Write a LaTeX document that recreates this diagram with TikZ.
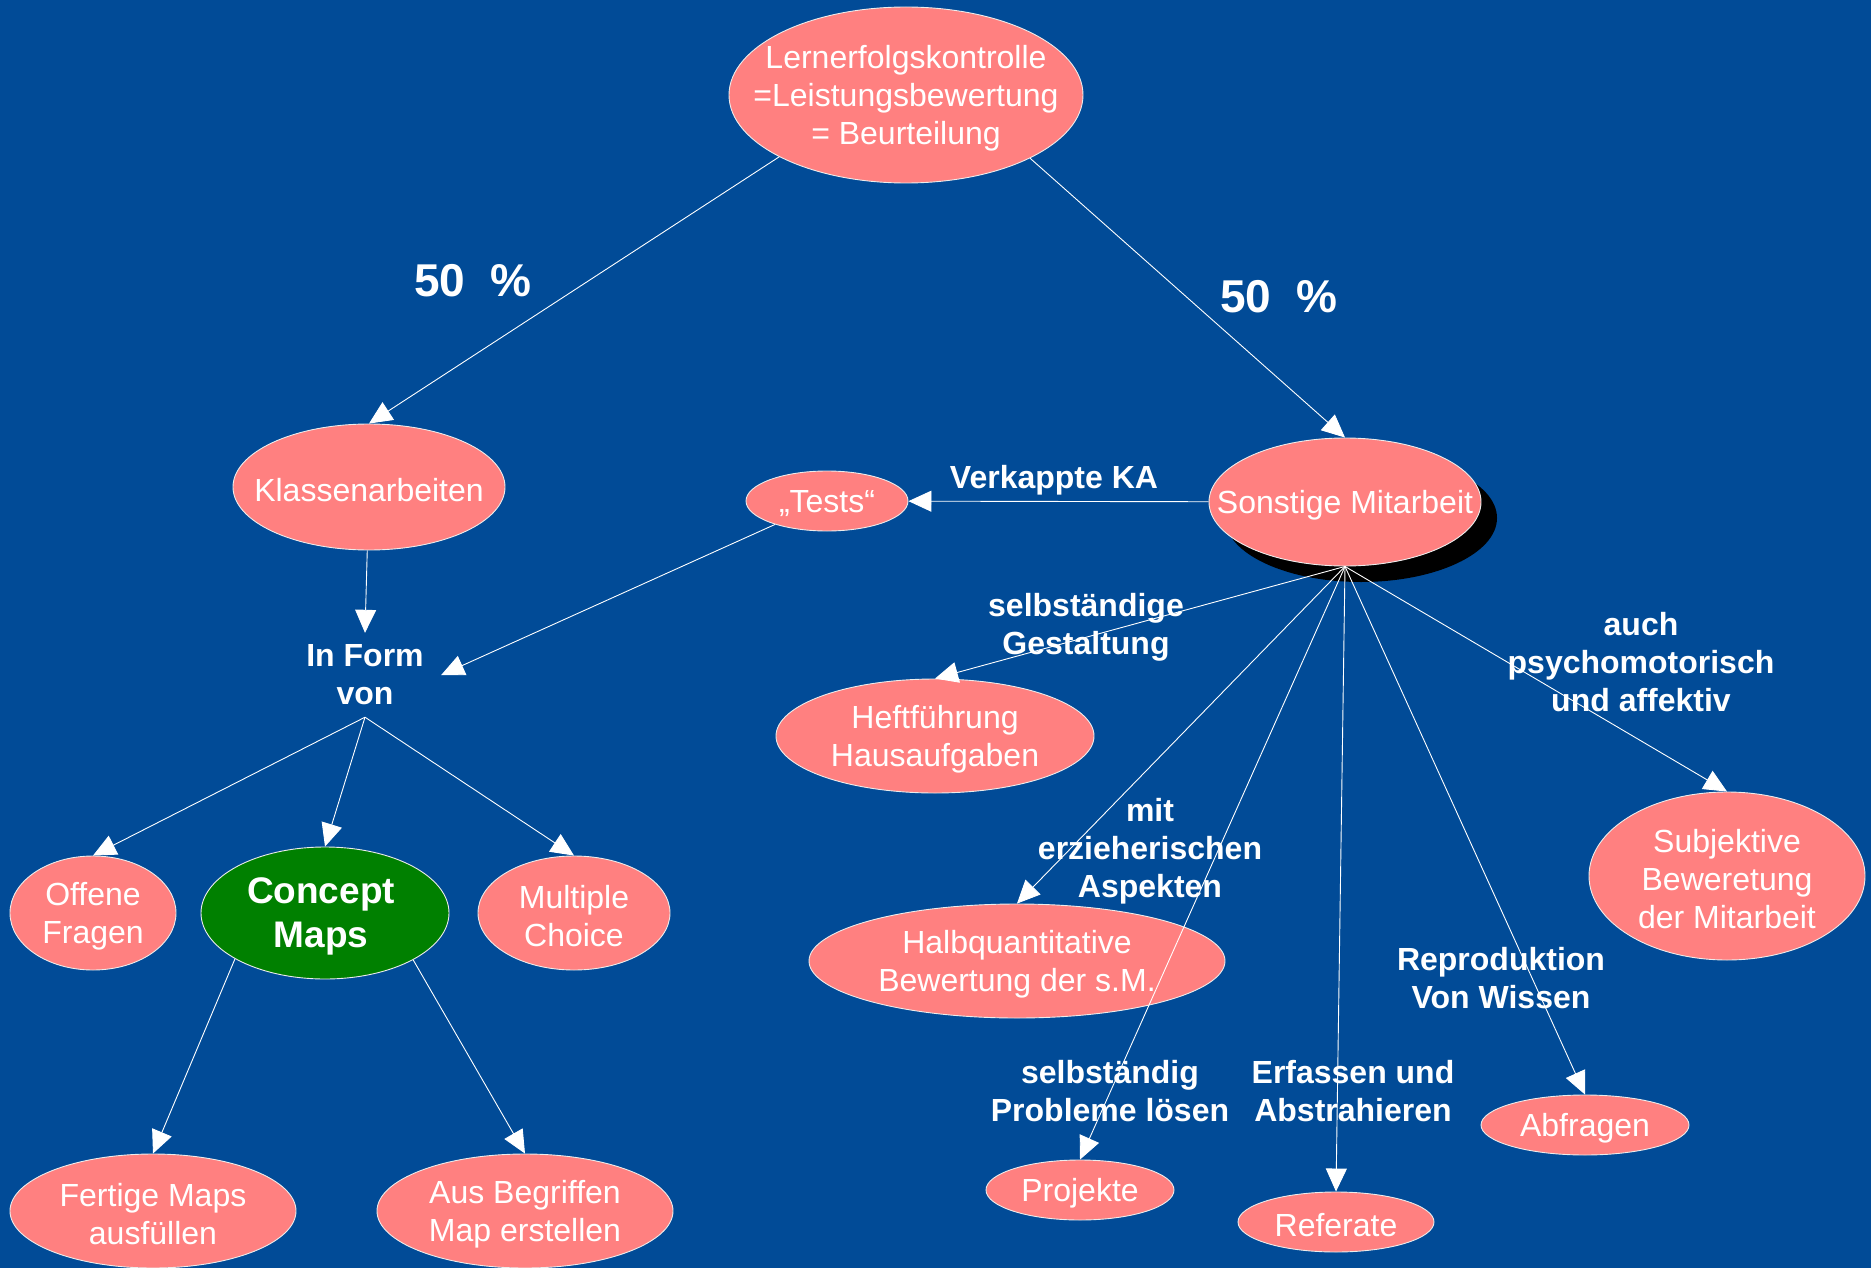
\documentclass[tikz,border=0pt]{standalone}
\usepackage{fontspec}
\setmainfont{Liberation Sans}
\usetikzlibrary{arrows.meta,shapes.geometric}
\definecolor{bgblue}{RGB}{1,75,151}
\definecolor{pinkfill}{RGB}{255,128,128}
\definecolor{cmgreen}{RGB}{0,128,0}
\begin{document}
\begin{tikzpicture}[x=1pt,y=-1pt,
  ell/.style={ellipse, draw=white!85!gray, line width=0.9pt, fill=pinkfill, inner sep=0pt},
  txt/.style={text=white, align=center, font=\fontsize{32}{38}\selectfont, inner sep=0pt, yshift=-3pt},
  lbl/.style={text=white, align=center, font=\fontsize{32}{38}\selectfont\bfseries, inner sep=0pt, yshift=-3pt},
  pct/.style={text=white, font=\fontsize{46}{52}\selectfont\bfseries, inner sep=0pt},
  edge/.style={draw=white, line width=0.9pt, -{Triangle[width=21pt,length=23pt]}}
]
\fill[bgblue] (0,0) rectangle (1871,1268);
\useasboundingbox (0,0) rectangle (1871,1268);

% shadow of Sonstige Mitarbeit
\fill[black] (1361,518) ellipse [x radius=136pt, y radius=64pt];

% nodes
\node[ell, minimum width=354pt, minimum height=176pt, label={[txt]center:{Lernerfolgskontrolle\\=Leistungsbewertung\\= Beurteilung}}] (top) at (906,95) {};
\node[ell, minimum width=272pt, minimum height=126pt, label={[txt]center:Klassenarbeiten}] (klass) at (369,487) {};
\node[ell, minimum width=162pt, minimum height=60pt, label={[txt]center:„Tests“}] (tests) at (827,501) {};
\node[ell, minimum width=272pt, minimum height=128pt, label={[txt]center:Sonstige Mitarbeit}] (sonst) at (1345,502) {};
\node[lbl, yshift=0pt, minimum width=152pt, minimum height=84pt] (inform) at (365,672) {In Form\\von};
\node[ell, minimum width=166pt, minimum height=114pt, label={[txt]center:{Offene\\Fragen}}] (offen) at (93,913) {};
\node[ell, fill=cmgreen, minimum width=248pt, minimum height=132pt, label={[txt,xshift=-4pt,font=\fontsize{37}{44}\selectfont\bfseries]center:{Concept\\Maps}}] (concept) at (325,913) {};
\node[ell, minimum width=192pt, minimum height=114pt, label={[txt]center:{Multiple\\Choice}}] (multi) at (574,913) {};
\node[ell, minimum width=286pt, minimum height=114pt, label={[txt]center:{Fertige Maps\\ausfüllen}}] (fertig) at (153,1211) {};
\node[ell, minimum width=296pt, minimum height=114pt, label={[txt]center:{Aus Begriffen\\Map erstellen}}] (aus) at (525,1211) {};
\node[ell, minimum width=318pt, minimum height=114pt, label={[txt]center:{Heftführung\\Hausaufgaben}}] (heft) at (935,736) {};
\node[ell, minimum width=416pt, minimum height=114pt, label={[txt]center:{Halbquantitative\\Bewertung der s.M.}}] (halb) at (1017,961) {};
\node[ell, minimum width=276pt, minimum height=168pt, label={[txt]center:{Subjektive\\Beweretung\\der Mitarbeit}}] (subj) at (1727,876) {};
\node[ell, minimum width=208pt, minimum height=60pt, label={[txt]center:Abfragen}] (abfr) at (1585,1125) {};
\node[ell, minimum width=188pt, minimum height=60pt, label={[txt]center:Projekte}] (proj) at (1080,1190) {};
\node[ell, minimum width=196pt, minimum height=60pt, label={[txt]center:Referate}] (ref) at (1336,1222) {};

% labels
\node[pct] (pctl) at (473,281) {50~~\%};
\node[pct] (pctr) at (1279,297) {50~~\%};
\node[lbl] (lverk) at (1054,477) {Verkappte KA};
\node[lbl] (lselbst) at (1086,624) {selbständige\\Gestaltung};
\node[lbl] (lauch) at (1641,659) {auch\\psychomotorisch\\und affektiv};
\node[lbl] (lmit) at (1150,848) {mit\\erzieherischen\\Aspekten};
\node[lbl] (lrepro) at (1501,975) {Reproduktion\\Von Wissen};
\node[lbl] (lprob) at (1110,1088) {selbständig\\Probleme lösen};
\node[lbl] (lerf) at (1353,1088) {Erfassen und\\Abstrahieren};

% edges
\draw[edge] (top.206.6) -- (klass.north);
\draw[edge] (top.333.3) -- (sonst.north);
\draw[edge] (sonst) -- (tests);
\draw[edge] (tests) -- (inform.east);
\draw[edge] (klass) -- (inform.north);
\draw[edge] (inform.south) -- (offen.north);
\draw[edge] (inform.south) -- (concept.north);
\draw[edge] (inform.south) -- (multi.north);
\draw[edge] (concept.207.6) -- (fertig.north);
\draw[edge] (concept.332.4) -- (aus.north);
\draw[edge] (sonst.south) -- (heft.north);
\draw[edge] (sonst.south) -- (halb.north);
\draw[edge] (sonst.south) -- (proj.north);
\draw[edge] (sonst.south) -- (ref.north);
\draw[edge] (sonst.south) -- (abfr.north);
\draw[edge] (sonst.south) -- (subj.north);
\end{tikzpicture}
\end{document}
